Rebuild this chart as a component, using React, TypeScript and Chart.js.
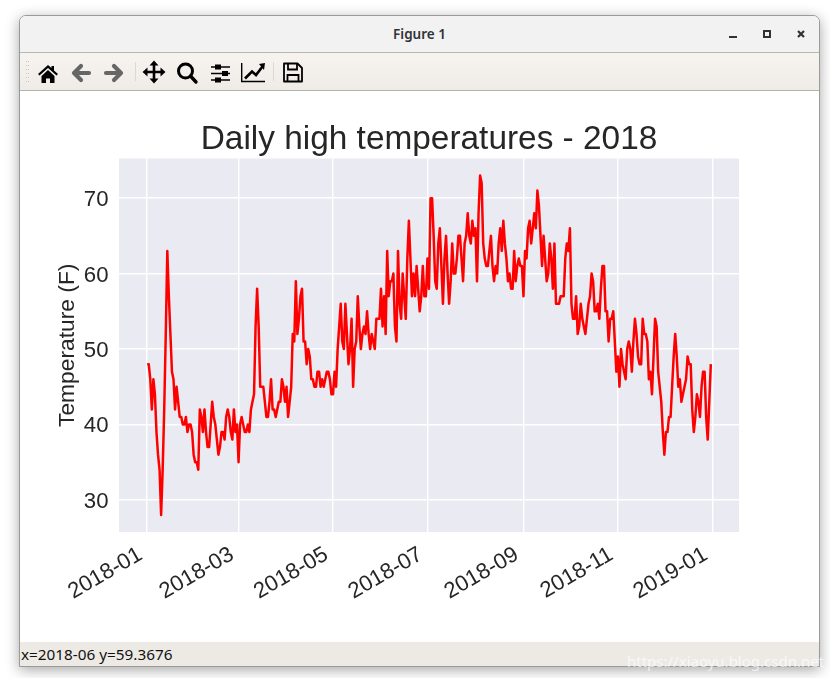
import React, { useEffect, useRef } from 'react';
import { Chart, registerables } from 'chart.js';

Chart.register(...registerables);

// daily highs
const janHighs = [48, 48, 46, 42, 46, 44, 39, 36, 34, 28, 34, 42, 52, 63, 57, 52, 47, 46, 42, 45, 43, 41, 41, 40, 40, 41, 39, 40, 40, 39, 36];
const febHighs = [35, 35, 34, 42, 41, 39, 42, 39, 37, 37, 40, 43, 41, 40, 38, 36, 37, 39, 39, 38, 41, 42, 41, 39, 38, 42, 39, 40];
const marHighs = [35, 40, 41, 40, 39, 39, 40, 39, 42, 43, 44, 53, 58, 53, 45, 45, 45, 43, 41, 41, 43, 46, 42, 42, 41, 42, 43, 43, 46, 45, 43];
const aprHighs = [45, 41, 43, 45, 52, 51, 59, 52, 54, 57, 58, 51, 51, 48, 50, 49, 46, 46, 45, 45, 47, 47, 45, 46, 45, 46, 47, 47, 46, 44];
const mayHighs = [44, 47, 45, 50, 53, 56, 51, 50, 56, 52, 48, 50, 54, 45, 50, 51, 57, 53, 50, 52, 53, 52, 55, 52, 50, 52, 51, 50, 54, 54, 54];
const junHighs = [58, 53, 57, 52, 63, 57, 59, 59, 60, 53, 51, 63, 56, 54, 60, 57, 54, 62, 67, 62, 57, 60, 57, 61, 58, 55, 57, 61, 57, 57];
const julHighs = [62, 58, 70, 70, 65, 59, 58, 64, 66, 61, 56, 62, 65, 60, 56, 59, 64, 60, 60, 62, 65, 65, 62, 59, 64, 65, 68, 65, 64, 67, 65];
const augHighs = [66, 59, 68, 73, 72, 64, 62, 61, 61, 63, 65, 61, 59, 61, 60, 64, 66, 63, 67, 64, 62, 59, 60, 58, 58, 63, 59, 61, 62, 61, 61];
const sepHighs = [57, 63, 62, 66, 67, 64, 66, 68, 66, 71, 69, 65, 61, 65, 62, 59, 60, 64, 62, 58, 64, 56, 56, 56, 57, 57, 57, 62, 64, 63];
const octHighs = [66, 56, 54, 54, 57, 52, 53, 56, 54, 53, 52, 54, 56, 57, 60, 59, 55, 55, 56, 54, 58, 61, 61, 55, 55, 51, 54, 54, 55, 51, 47];
const novHighs = [49, 45, 50, 48, 47, 46, 50, 51, 50, 47, 51, 54, 52, 49, 48, 48, 54, 52, 52, 51, 46, 47, 44, 49, 54, 53, 47, 45, 43, 39];
const decHighs = [36, 39, 39, 41, 41, 45, 49, 52, 49, 45, 46, 43, 44, 45, 46, 49, 48, 48, 42, 39, 41, 44, 43, 41, 45, 47, 47, 41, 38, 43, 48];

const highs = [
  ...janHighs, ...febHighs, ...marHighs, ...aprHighs, ...mayHighs, ...junHighs,
  ...julHighs, ...augHighs, ...sepHighs, ...octHighs, ...novHighs, ...decHighs,
];

// x ticks, as day of the year
const tickDays = [0, 59, 120, 181, 243, 304, 365];
const tickLabels = ['2018-01', '2018-03', '2018-05', '2018-07', '2018-09', '2018-11', '2019-01'];
const tempTicks = [30, 40, 50, 60, 70];

const TEXT = '#262626';
const FONT = '"Liberation Sans", Arial, sans-serif';

const plotBackground = {
  id: 'plotBackground',
  beforeDraw(chart: any) {
    const { ctx, chartArea: a } = chart;
    ctx.save();
    ctx.fillStyle = '#EAEAF2';
    ctx.fillRect(a.left, a.top, a.right - a.left, a.bottom - a.top);
    ctx.restore();
  },
};

// Chart.js centres tick text differently from matplotlib, so labels go here, at the scales' own pixels
const tickText = {
  id: 'tickText',
  afterDraw(chart: any) {
    const { ctx, scales, chartArea } = chart;
    ctx.save();
    ctx.fillStyle = TEXT;
    ctx.font = `22.2px ${FONT}`;
    ctx.textAlign = 'right';
    ctx.textBaseline = 'alphabetic';
    tempTicks.forEach(t => {
      ctx.fillText(String(t), chartArea.left - 10.5, scales.y.getPixelForValue(t) + 8);
    });
    tickDays.forEach((d, i) => {
      ctx.save();
      ctx.translate(scales.x.getPixelForValue(d) - 6.5, chartArea.bottom + 21);
      ctx.rotate(-Math.PI / 6);
      ctx.textBaseline = 'middle';
      ctx.fillText(tickLabels[i], 0, 0);
      ctx.restore();
    });
    ctx.restore();
  },
};

const ToolbarIcons = () => (
  <svg width="800" height="37" style={{ position: 'absolute', left: 0, top: 0 }}>
    <g transform="translate(-1 1)">
      {/* grip */}
      <g fill="#c9c6c1">
        {[7, 11, 15, 19, 23, 27].map(y => (
          <React.Fragment key={y}>
            <rect x="7" y={y} width="1" height="1" />
            <rect x="9" y={y} width="1" height="1" />
          </React.Fragment>
        ))}
      </g>
      <rect x="116" y="8" width="1" height="19" fill="#dcd9d4" />
      <rect x="254" y="8" width="1" height="19" fill="#dcd9d4" />
      {/* home */}
      <path d="M29 11 L19 20 L20.5 21.5 L29 14 L37.5 21.5 L39 20 L35 16.5 L35 12 L32.5 12 L32.5 14 Z M22.5 22 L29 16 L35.5 22 L35.5 29 L31 29 L31 24.5 L27 24.5 L27 29 L22.5 29 Z" fill="#000" />
      {/* back, forward */}
      <path d="M55 19 L62 12 M55 19 L62 26 M56 19 L70 19" stroke="#666" strokeWidth="4.2" strokeLinejoin="round" strokeLinecap="round" fill="none" />
      <path d="M102 19 L95 12 M102 19 L95 26 M101 19 L87 19" stroke="#666" strokeWidth="4.2" strokeLinejoin="round" strokeLinecap="round" fill="none" />
      {/* move */}
      <g transform="translate(135 18)">
        <path d="M0 -9 L0 9 M-9 0 L9 0" stroke="#000" strokeWidth="2.6" />
        <path d="M0 -11.5 L-4.5 -6.5 L4.5 -6.5 Z M0 11.5 L-4.5 6.5 L4.5 6.5 Z M-11.5 0 L-6.5 -4.5 L-6.5 4.5 Z M11.5 0 L6.5 -4.5 L6.5 4.5 Z" fill="#000" />
      </g>
      {/* zoom */}
      <circle cx="166.5" cy="17" r="7" stroke="#000" strokeWidth="3" fill="none" />
      <path d="M171.5 22 L177 28" stroke="#000" strokeWidth="3.4" strokeLinecap="round" />
      {/* sliders */}
      <path d="M192 13 H211 M192 19.5 H211 M192 26 H211" stroke="#000" strokeWidth="1.5" />
      <rect x="196" y="10.5" width="6" height="5" fill="#000" />
      <rect x="203" y="17" width="6" height="5" fill="#000" />
      <rect x="196" y="23.5" width="6" height="5" fill="#000" />
      {/* lines */}
      <path d="M222.7 9 V27.5 H246" stroke="#000" strokeWidth="1.4" fill="none" />
      <path d="M226 24.5 L233 17.5 L237 21 L243.5 12.5" stroke="#000" strokeWidth="2.6" fill="none" />
      <path d="M246 9 L240 10 L245 16 Z" fill="#000" />
      {/* save */}
      <path d="M265 9.5 H278.5 L283 14 V27.5 H265 Z" stroke="#000" strokeWidth="1.8" fill="none" strokeLinejoin="round" />
      <path d="M269 9.5 V15.5 H278 V9.5 M268.5 27.5 V21 H279.5 V27.5" stroke="#000" strokeWidth="1.8" fill="none" />
    </g>
  </svg>
);

const App: React.FC = () => {
  const canvasRef = useRef<HTMLCanvasElement | null>(null);

  useEffect(() => {
    if (!canvasRef.current) return;
    const chart = new Chart(canvasRef.current, {
      type: 'line',
      data: {
        labels: highs.map((_, i) => i),
        datasets: [
          {
            data: highs,
            borderColor: '#ff0000',
            borderWidth: 2.5,
            borderJoinStyle: 'round',
            pointRadius: 0,
            tension: 0,
          },
        ],
      },
      options: {
        animation: false,
        responsive: false,
        devicePixelRatio: 1,
        layout: { autoPadding: false, padding: { top: 30, right: 80, left: 0, bottom: 0 } },
        plugins: {
          legend: { display: false },
          tooltip: { enabled: false },
          title: {
            display: true,
            fullSize: false,
            text: 'Daily high temperatures - 2018',
            color: TEXT,
            font: { family: FONT, size: 33.4, weight: 'normal', lineHeight: 1.1 },
            padding: { top: 0, bottom: 0.8 },
          },
        },
        scales: {
          x: {
            type: 'linear',
            min: -18.2,
            max: 382.2,
            afterBuildTicks: (axis: any) => {
              axis.ticks = tickDays.map(value => ({ value }));
            },
            afterFit: (axis: any) => {
              axis.height = 110;
            },
            grid: { color: '#ffffff', lineWidth: 1.4, drawTicks: false },
            border: { display: false },
            ticks: { display: false },
          },
          y: {
            min: 25.75,
            max: 75.25,
            afterBuildTicks: (axis: any) => {
              axis.ticks = tempTicks.map(value => ({ value }));
            },
            afterFit: (axis: any) => {
              axis.width = 100;
            },
            grid: { color: '#ffffff', lineWidth: 1.4, drawTicks: false },
            border: { display: false },
            title: {
              display: true,
              text: 'Temperature (F)',
              color: TEXT,
              font: { family: FONT, size: 22.8 },
              padding: { top: 35, bottom: 0 },
            },
            ticks: { display: false },
          },
        },
      } as any,
      plugins: [plotBackground, tickText],
    });
    return () => chart.destroy();
  }, []);

  return (
    <div style={{ position: 'absolute', left: 0, top: 0, width: 830, height: 678, overflow: 'hidden', background: '#fff' }}>
      <div
        style={{
          position: 'absolute', left: 19, top: 15, width: 801, height: 652, boxSizing: 'border-box',
          borderRadius: '7px 7px 0 0', border: '1px solid #9a9a98', background: '#fff',
          boxShadow: '0 3px 14px rgba(0,0,0,0.35)', overflow: 'hidden',
        }}
      >
        <div
          style={{
            position: 'absolute', left: 0, top: 0, right: 0, height: 36, background: '#f2f2f2',
            borderBottom: '1px solid #b9b7b4', textAlign: 'center',
            font: '600 13.5px/36px "Noto Sans", sans-serif', color: '#2e3436',
          }}
        >
          Figure 1
        </div>
        <svg width="100" height="36" style={{ position: 'absolute', right: 0, top: 0 }}>
          <rect x="10" y="20" width="8" height="2" fill="#2e3436" />
          <rect x="45" y="15" width="6" height="6" fill="none" stroke="#2e3436" strokeWidth="2" />
          <path d="M79 15 L85 21 M85 15 L79 21" stroke="#2e3436" strokeWidth="2.2" />
        </svg>
        <div
          style={{
            position: 'absolute', left: 0, top: 37, right: 0, height: 37,
            background: 'linear-gradient(#f7f4ef, #efebe6)', borderBottom: '1px solid #b5b2ac',
          }}
        >
          <ToolbarIcons />
        </div>
        <canvas
          ref={canvasRef}
          width={800}
          height={551}
          style={{ position: 'absolute', left: -1, top: 75, width: 800, height: 551 }}
        />
        <div
          style={{
            position: 'absolute', left: 0, right: 0, top: 626, height: 25, background: '#edeae6',
            font: '15.3px/25px "Noto Sans", sans-serif', color: '#111', paddingLeft: 1, whiteSpace: 'nowrap',
          }}
        >
          x=2018-06 y=59.3676
        </div>
      </div>
      <div
        style={{
          position: 'absolute', left: 627, top: 651, font: '15px "Noto Sans", sans-serif',
          color: 'rgba(255,255,255,0.7)', whiteSpace: 'nowrap',
        }}
      >
        https://xiaoyu.blog.csdn.net
      </div>
    </div>
  );
};

export default App;
